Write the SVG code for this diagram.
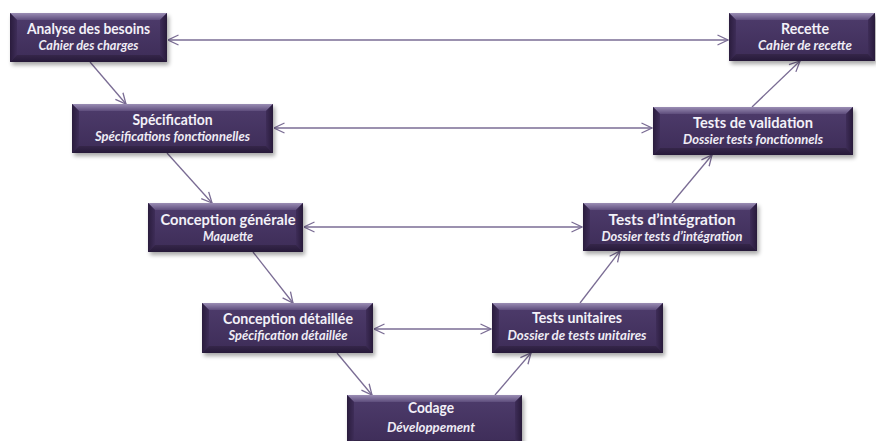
<svg xmlns="http://www.w3.org/2000/svg" width="876" height="441" viewBox="0 0 876 441">
<defs>
<linearGradient id="gFace" x1="0" y1="0" x2="0" y2="1"><stop offset="0" stop-color="#4e3c6c"/><stop offset="1" stop-color="#3d2c57"/></linearGradient>
<linearGradient id="gTop" x1="0" y1="0" x2="0" y2="1"><stop offset="0" stop-color="#9a8db4"/><stop offset="1" stop-color="#5e4d7c"/></linearGradient>
<linearGradient id="gLeft" x1="0" y1="0" x2="1" y2="0"><stop offset="0" stop-color="#2a1c3d"/><stop offset="1" stop-color="#3e2d58"/></linearGradient>
<linearGradient id="gRight" x1="0" y1="0" x2="1" y2="0"><stop offset="0" stop-color="#3e2d58"/><stop offset="1" stop-color="#281a3a"/></linearGradient>
<linearGradient id="gBot" x1="0" y1="0" x2="0" y2="1"><stop offset="0" stop-color="#352649"/><stop offset="1" stop-color="#261939"/></linearGradient>
<filter id="sh" x="-10%" y="-20%" width="125%" height="160%"><feGaussianBlur stdDeviation="2.2"/></filter>
<marker id="ah" viewBox="0 0 12 12" refX="11.5" refY="6" markerWidth="12" markerHeight="12" markerUnits="userSpaceOnUse" orient="auto-start-reverse"><path d="M1,1 L11.5,6 L1,11" fill="none" stroke="#7a6c94" stroke-width="1.3"/></marker>
</defs>
<style>
.shadow{fill:#000;opacity:0.35;filter:url(#sh)}
.face{fill:url(#gFace)}
.bt{fill:url(#gTop)}
.bl{fill:url(#gLeft)}
.br{fill:url(#gRight)}
.bb{fill:url(#gBot)}
.t1{font-family:Lato,"Open Sans","Liberation Sans",sans-serif;font-weight:bold;font-size:15px;fill:#f3f1f8;text-anchor:middle}
.t2{font-family:Lato,"Open Sans","Liberation Sans",sans-serif;font-weight:bold;font-style:italic;font-size:13px;fill:#efecf5;text-anchor:middle}
.c{stroke:#7a6c94;stroke-width:1.3;fill:none;marker-end:url(#ah)}
.d{marker-start:url(#ah)}
</style>
<rect width="876" height="441" fill="#ffffff"/>

<g id="connectors">
<line class="c d" x1="168" y1="40" x2="728" y2="40"/>
<line class="c d" x1="274" y1="128" x2="652" y2="128"/>
<line class="c d" x1="304" y1="227" x2="582" y2="227"/>
<line class="c d" x1="374" y1="329" x2="491" y2="329"/>
<line class="c" x1="90" y1="62" x2="126" y2="104"/>
<line class="c" x1="167" y1="153" x2="212" y2="203"/>
<line class="c" x1="253" y1="252" x2="293" y2="303"/>
<line class="c" x1="337" y1="353" x2="372" y2="395"/>
<line class="c" x1="495" y1="395" x2="531" y2="353"/>
<line class="c" x1="580" y1="303" x2="620" y2="251"/>
<line class="c" x1="672" y1="203" x2="712" y2="155"/>
<line class="c" x1="752" y1="107" x2="800" y2="61"/>
</g>

<g id="n-analyse">
<rect class="shadow" x="12" y="16" width="157" height="49"/>
<rect class="face" x="10" y="13" width="157" height="49"/>
<polygon class="bt" points="10,13 167,13 160,20 17,20"/>
<polygon class="bl" points="10,13 17,20 17,55 10,62"/>
<polygon class="br" points="167,13 167,62 160,55 160,20"/>
<polygon class="bb" points="10,62 167,62 160,55 17,55"/>
<text class="t1" x="88.5" y="34" textLength="123" lengthAdjust="spacingAndGlyphs">Analyse des besoins</text>
<text class="t2" x="88.5" y="50" textLength="100" lengthAdjust="spacingAndGlyphs">Cahier des charges</text>
</g>

<g id="n-recette">
<rect class="shadow" x="731" y="16" width="146" height="48"/>
<rect class="face" x="729" y="13" width="146" height="48"/>
<polygon class="bt" points="729,13 875,13 868,20 736,20"/>
<polygon class="bl" points="729,13 736,20 736,54 729,61"/>
<polygon class="br" points="875,13 875,61 868,54 868,20"/>
<polygon class="bb" points="729,61 875,61 868,54 736,54"/>
<text class="t1" x="805" y="34" textLength="48" lengthAdjust="spacingAndGlyphs">Recette</text>
<text class="t2" x="805" y="50" textLength="94" lengthAdjust="spacingAndGlyphs">Cahier de recette</text>
</g>

<g id="n-specification">
<rect class="shadow" x="74" y="107" width="201" height="49"/>
<rect class="face" x="72" y="104" width="201" height="49"/>
<polygon class="bt" points="72,104 273,104 266,111 79,111"/>
<polygon class="bl" points="72,104 79,111 79,146 72,153"/>
<polygon class="br" points="273,104 273,153 266,146 266,111"/>
<polygon class="bb" points="72,153 273,153 266,146 79,146"/>
<text class="t1" x="172.5" y="125" textLength="80" lengthAdjust="spacingAndGlyphs">Spécification</text>
<text class="t2" x="172.5" y="141" textLength="155" lengthAdjust="spacingAndGlyphs">Spécifications fonctionnelles</text>
</g>

<g id="n-validation">
<rect class="shadow" x="655" y="110" width="200" height="48"/>
<rect class="face" x="653" y="107" width="200" height="48"/>
<polygon class="bt" points="653,107 853,107 846,114 660,114"/>
<polygon class="bl" points="653,107 660,114 660,148 653,155"/>
<polygon class="br" points="853,107 853,155 846,148 846,114"/>
<polygon class="bb" points="653,155 853,155 846,148 660,148"/>
<text class="t1" x="753" y="128" textLength="120" lengthAdjust="spacingAndGlyphs">Tests de validation</text>
<text class="t2" x="753" y="144" textLength="140" lengthAdjust="spacingAndGlyphs">Dossier tests fonctionnels</text>
</g>

<g id="n-conception-generale">
<rect class="shadow" x="150" y="206" width="155" height="49"/>
<rect class="face" x="148" y="203" width="155" height="49"/>
<polygon class="bt" points="148,203 303,203 296,210 155,210"/>
<polygon class="bl" points="148,203 155,210 155,245 148,252"/>
<polygon class="br" points="303,203 303,252 296,245 296,210"/>
<polygon class="bb" points="148,252 303,252 296,245 155,245"/>
<text class="t1" x="228" y="225" textLength="135" lengthAdjust="spacingAndGlyphs">Conception générale</text>
<text class="t2" x="228" y="241" textLength="50" lengthAdjust="spacingAndGlyphs">Maquette</text>
</g>

<g id="n-integration">
<rect class="shadow" x="585" y="206" width="174" height="48"/>
<rect class="face" x="583" y="203" width="174" height="48"/>
<polygon class="bt" points="583,203 757,203 750,210 590,210"/>
<polygon class="bl" points="583,203 590,210 590,244 583,251"/>
<polygon class="br" points="757,203 757,251 750,244 750,210"/>
<polygon class="bb" points="583,251 757,251 750,244 590,244"/>
<text class="t1" x="672" y="225" textLength="127" lengthAdjust="spacingAndGlyphs">Tests d’intégration</text>
<text class="t2" x="672" y="241" textLength="141" lengthAdjust="spacingAndGlyphs">Dossier tests d’intégration</text>
</g>

<g id="n-conception-detaillee">
<rect class="shadow" x="204" y="306" width="171" height="50"/>
<rect class="face" x="202" y="303" width="171" height="50"/>
<polygon class="bt" points="202,303 373,303 366,310 209,310"/>
<polygon class="bl" points="202,303 209,310 209,346 202,353"/>
<polygon class="br" points="373,303 373,353 366,346 366,310"/>
<polygon class="bb" points="202,353 373,353 366,346 209,346"/>
<text class="t1" x="288" y="324" textLength="130" lengthAdjust="spacingAndGlyphs">Conception détaillée</text>
<text class="t2" x="288" y="340" textLength="119" lengthAdjust="spacingAndGlyphs">Spécification détaillée</text>
</g>

<g id="n-tests-unitaires">
<rect class="shadow" x="494" y="306" width="171" height="50"/>
<rect class="face" x="492" y="303" width="171" height="50"/>
<polygon class="bt" points="492,303 663,303 656,310 499,310"/>
<polygon class="bl" points="492,303 499,310 499,346 492,353"/>
<polygon class="br" points="663,303 663,353 656,346 656,310"/>
<polygon class="bb" points="492,353 663,353 656,346 499,346"/>
<text class="t1" x="577" y="323" textLength="90" lengthAdjust="spacingAndGlyphs">Tests unitaires</text>
<text class="t2" x="577" y="340" textLength="139" lengthAdjust="spacingAndGlyphs">Dossier de tests unitaires</text>
</g>

<g id="n-codage">
<rect class="shadow" x="349" y="398" width="175" height="52"/>
<rect class="face" x="347" y="395" width="175" height="52"/>
<polygon class="bt" points="347,395 522,395 515,402 354,402"/>
<polygon class="bl" points="347,395 354,402 354,440 347,447"/>
<polygon class="br" points="522,395 522,447 515,440 515,402"/>
<polygon class="bb" points="347,447 522,447 515,440 354,440"/>
<text class="t1" x="431" y="413" textLength="46" lengthAdjust="spacingAndGlyphs">Codage</text>
<text class="t2" x="431" y="432" textLength="88" lengthAdjust="spacingAndGlyphs">Développement</text>
</g>
</svg>
